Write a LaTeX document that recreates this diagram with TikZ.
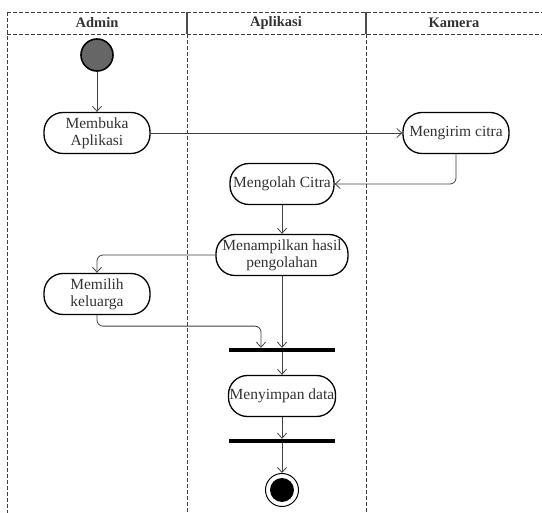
\documentclass[tikz,border=0pt]{standalone}
\usepackage{fontspec}
\setmainfont{Liberation Serif}
\usetikzlibrary{arrows.meta}

\tikzset{
    lane/.style={draw=black!75, dash pattern=on 4pt off 2pt, line width=0.9pt},
    activity/.style={draw=black, line width=1.3pt, fill=white, rounded corners=19pt,
        minimum width=106pt, minimum height=41pt, inner sep=1pt, align=center,
        text=black!80, font=\fontsize{15.5}{17}\selectfont},
    syncbar/.style={fill=black, minimum width=106pt, minimum height=4pt, inner sep=0pt},
    flow/.style={draw=black!75, line width=0.8pt, rounded corners=6pt,
        -{Straight Barb[length=5pt,width=9pt]}},
    lanetitle/.style={font=\fontsize{14.5}{16}\selectfont\bfseries, text=black!80}
}

\begin{document}
\begin{tikzpicture}[x=1pt,y=-1pt]

\useasboundingbox (0,0) rectangle (542,513);

% swimlanes
\draw[lane] (7,12) -- (542,12);
\draw[lane] (7,34) -- (542,34);
\draw[lane] (7,12) -- (7,513);
\foreach \l in {187,366} {
    \draw[black!70, line width=1.2pt] (\l,12) -- (\l,34);
    \draw[lane] (\l,34) -- (\l,513);
}

% lane titles
\node[lanetitle] (admin)    at (97,23)  {Admin};
\node[lanetitle] (aplikasi) at (276,23) {Aplikasi};
\node[lanetitle] (kamera)   at (454,23) {Kamera};

% activities
\node[circle, draw=black, line width=1.6pt, fill=black!60, minimum size=32pt, inner sep=0pt] (start) at (97,55) {};
\node[activity] (membuka)     at (97,133)  {Membuka\\Aplikasi};
\node[activity] (mengirim)    at (456,133) {Mengirim citra};
\node[activity, minimum width=104pt] (mengolah) at (282,184) {Mengolah Citra};
\node[activity, minimum width=132pt] (menampilkan) at (282,255) {Menampilkan hasil\\pengolahan};
\node[activity] (memilih)     at (97,294)  {Memilih\\keluarga};
\node[syncbar]  (join)        at (282,350) {};
\node[activity, minimum width=107pt] (menyimpan) at (282,396) {Menyimpan data};
\node[syncbar]  (fork)        at (282,441) {};
\node[circle, draw=black, line width=1pt, fill=white, minimum size=33pt, inner sep=0pt] (finish) at (282,490) {};
\node[circle, fill=black, minimum size=24pt, inner sep=0pt] (finishdot) at (finish) {};

% transitions
\draw[flow] (start) -- (membuka);
\draw[flow] (membuka) -- (mengirim);
\draw[flow] (mengirim.south) |- (mengolah.east);
\draw[flow] (mengolah) -- (menampilkan);
\draw[flow] (menampilkan.west) -| (memilih.north);
\draw[flow] (menampilkan.south) -- (join.north);
\draw[flow] (memilih.south) -- ++(0,11) -| ([xshift=-21pt]join.north);
\draw[flow] (join) -- (menyimpan);
\draw[flow] (menyimpan) -- (fork);
\draw[flow] (fork) -- (finish);

\end{tikzpicture}
\end{document}
